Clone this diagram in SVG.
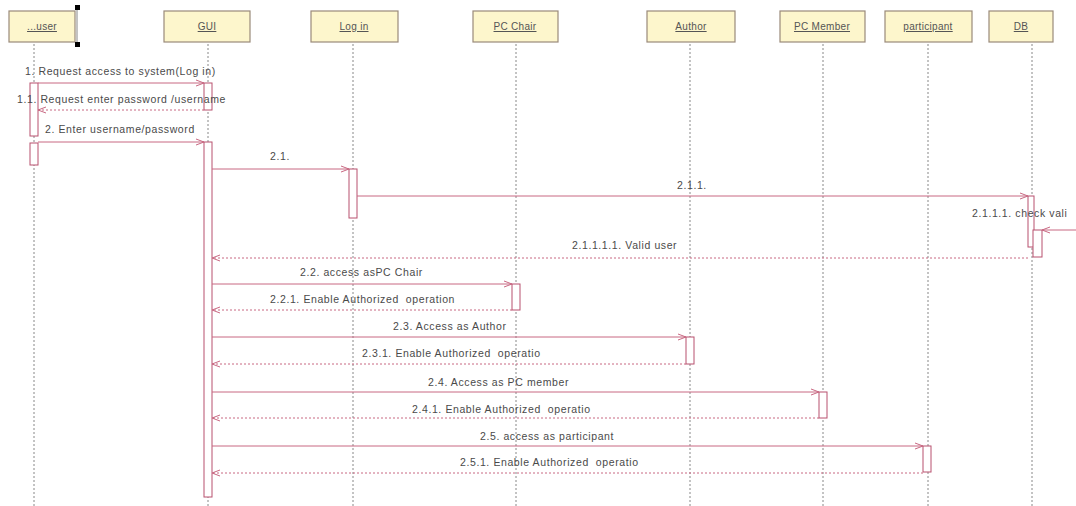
<svg xmlns="http://www.w3.org/2000/svg" width="1076" height="506" viewBox="0 0 1076 506">
<defs>
<marker id="open" markerWidth="10" markerHeight="8" refX="9" refY="4" orient="auto" markerUnits="userSpaceOnUse">
<path d="M1,1 L9,4 L1,7" fill="none" stroke="#c86882" stroke-width="1"/>
</marker>
<style>
.hdr{fill:#fdf6cc;stroke:#9a8a7a;stroke-width:1.2}
.hl{font-family:"Liberation Sans",Arial,sans-serif;font-size:10px;fill:#555;text-anchor:middle;text-decoration:underline;letter-spacing:0.3px}
.life{stroke:#888;stroke-width:1;stroke-dasharray:2,2;fill:none}
.act{fill:#fff;stroke:#b8506e;stroke-width:1}
.msg{stroke:#c86882;stroke-width:1;fill:none;marker-end:url(#open)}
.ret{stroke:#c86882;stroke-width:1;stroke-dasharray:2,2;fill:none;marker-end:url(#open)}
.lbl{font-family:"Liberation Sans",Arial,sans-serif;font-size:10.5px;letter-spacing:0.6px;fill:#4a4a4a;white-space:pre}
</style>
</defs>
<rect width="1076" height="506" fill="#fff"/>

<g id="lifelines">
<line class="life" x1="34" y1="44" x2="34" y2="506"/>
<line class="life" x1="208" y1="44" x2="208" y2="506"/>
<line class="life" x1="353" y1="44" x2="353" y2="506"/>
<line class="life" x1="516" y1="44" x2="516" y2="506"/>
<line class="life" x1="690" y1="44" x2="690" y2="506"/>
<line class="life" x1="823" y1="44" x2="823" y2="506"/>
<line class="life" x1="928" y1="44" x2="928" y2="506"/>
<line class="life" x1="1032" y1="44" x2="1032" y2="506"/>
</g>

<g id="user">
<rect class="hdr" x="9" y="11" width="66" height="31"/>
<text class="hl" x="42" y="30">...user</text>
<line x1="77" y1="8" x2="77" y2="45" stroke="#888" stroke-width="1"/>
<rect x="75" y="5" width="5" height="5" fill="#000"/>
<rect x="75" y="42" width="5" height="5" fill="#000"/>
</g>
<g id="gui">
<rect class="hdr" x="164" y="11" width="86" height="31"/>
<text class="hl" x="207" y="30">GUI</text>
</g>
<g id="login">
<rect class="hdr" x="311" y="11" width="87" height="31"/>
<text class="hl" x="354" y="30">Log in</text>
</g>
<g id="pcchair">
<rect class="hdr" x="473" y="11" width="85" height="31"/>
<text class="hl" x="515" y="30">PC Chair</text>
</g>
<g id="author">
<rect class="hdr" x="647" y="11" width="88" height="31"/>
<text class="hl" x="691" y="30">Author</text>
</g>
<g id="pcmember">
<rect class="hdr" x="780" y="11" width="85" height="31"/>
<text class="hl" x="822" y="30">PC Member</text>
</g>
<g id="participant">
<rect class="hdr" x="885" y="11" width="87" height="31"/>
<text class="hl" x="928" y="30">participant</text>
</g>
<g id="db">
<rect class="hdr" x="989" y="11" width="64" height="31"/>
<text class="hl" x="1021" y="30">DB</text>
</g>

<g id="activations">
<rect class="act" x="30" y="83" width="8" height="53"/>
<rect class="act" x="204" y="83" width="8" height="27"/>
<rect class="act" x="30" y="143" width="8" height="22"/>
<rect class="act" x="204" y="142" width="8" height="355"/>
<rect class="act" x="349" y="169" width="8" height="49"/>
<rect class="act" x="1028" y="196" width="6" height="51"/>
<rect class="act" x="1033" y="230" width="9" height="27"/>
<rect class="act" x="512" y="284" width="8" height="26"/>
<rect class="act" x="686" y="337" width="8" height="27"/>
<rect class="act" x="819" y="392" width="8" height="26"/>
<rect class="act" x="923" y="446" width="8" height="26"/>
</g>

<g id="connectors">
<line class="msg" x1="38" y1="83" x2="204" y2="83"/>
<line class="ret" x1="204" y1="110" x2="38" y2="110"/>
<line class="msg" x1="38" y1="142" x2="204" y2="142"/>
<line class="msg" x1="212" y1="169" x2="349" y2="169"/>
<line class="msg" x1="357" y1="196" x2="1028" y2="196"/>
<line class="msg" x1="1076" y1="230" x2="1042" y2="230"/>
<line class="ret" x1="1028" y1="258" x2="212" y2="258"/>
<line class="msg" x1="212" y1="284" x2="512" y2="284"/>
<line class="ret" x1="512" y1="310" x2="212" y2="310"/>
<line class="msg" x1="212" y1="337" x2="686" y2="337"/>
<line class="ret" x1="686" y1="364" x2="212" y2="364"/>
<line class="msg" x1="212" y1="392" x2="819" y2="392"/>
<line class="ret" x1="819" y1="418" x2="212" y2="418"/>
<line class="msg" x1="212" y1="446" x2="923" y2="446"/>
<line class="ret" x1="923" y1="473" x2="212" y2="473"/>
</g>

<g id="labels">
<text class="lbl" x="25" y="75">1. Request access to system(Log in)</text>
<text class="lbl" x="17" y="103">1.1. Request enter password /username</text>
<text class="lbl" x="45" y="133">2. Enter username/password</text>
<text class="lbl" x="270" y="160">2.1.</text>
<text class="lbl" x="677" y="189">2.1.1.</text>
<text class="lbl" x="972" y="217">2.1.1.1. check vali</text>
<text class="lbl" x="572" y="249">2.1.1.1.1. Valid user</text>
<text class="lbl" x="300" y="276">2.2. access asPC Chair</text>
<text class="lbl" x="270" y="303">2.2.1. Enable Authorized  operation</text>
<text class="lbl" x="393" y="330">2.3. Access as Author</text>
<text class="lbl" x="362" y="357">2.3.1. Enable Authorized  operatio</text>
<text class="lbl" x="428" y="386">2.4. Access as PC member</text>
<text class="lbl" x="412" y="413">2.4.1. Enable Authorized  operatio</text>
<text class="lbl" x="480" y="440">2.5. access as participant</text>
<text class="lbl" x="460" y="466">2.5.1. Enable Authorized  operatio</text>
</g>
</svg>
